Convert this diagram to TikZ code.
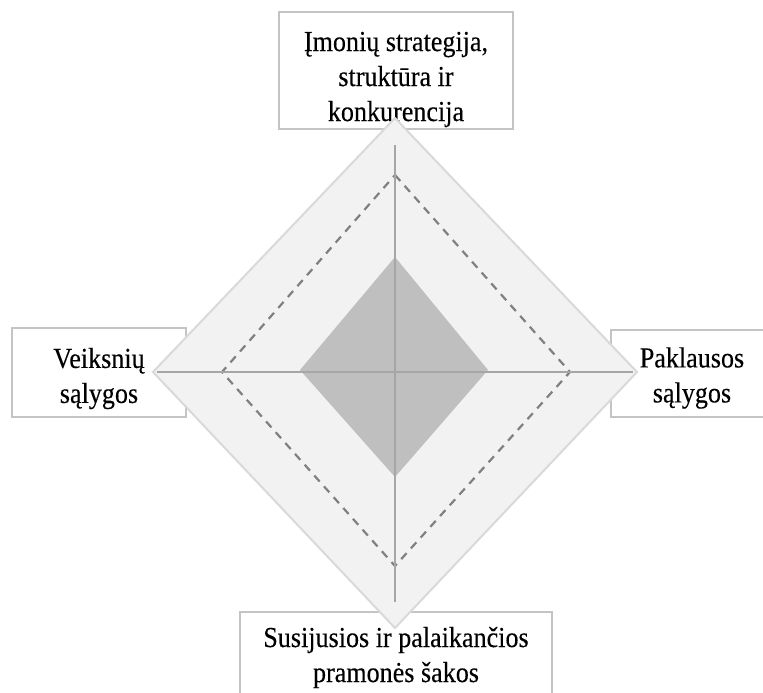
\documentclass[tikz,border=0pt]{standalone}
\usepackage{fontspec}
\setmainfont[FakeStretch=0.9,FakeBold=0.25]{Liberation Serif}
\definecolor{outerfill}{HTML}{F2F2F2}
\definecolor{outerline}{HTML}{D9D9D9}
\definecolor{innerfill}{HTML}{BFBFBF}
\definecolor{axisline}{HTML}{A6A6A6}
\definecolor{dashline}{HTML}{808080}
\definecolor{boxline}{HTML}{C4C4C4}
\begin{document}
\begin{tikzpicture}[x=1pt,y=-1pt,
  factorbox/.style={draw=boxline, line width=1.3pt, fill=white, rectangle, inner sep=0pt, outer sep=0pt},
  lbl/.style={align=center, inner sep=0pt, outer sep=0pt, font=\fontsize{29}{35}\selectfont},
  outerdiamond/.style={fill=outerfill, draw=outerline, line width=2pt, line join=miter},
  dashdiamond/.style={draw=dashline, line width=2.2pt, dash pattern=on 8pt off 6.5pt},
  innerdiamond/.style={fill=innerfill},
  axis/.style={draw=axisline, line width=2.4pt}]
\useasboundingbox (0,0) rectangle (763,693);
\clip (0,0) rectangle (763,693);
% boxes
\node[factorbox, minimum width=234pt, minimum height=117pt] (topbox) at (396,70.5) {};
\node[factorbox, minimum width=174pt, minimum height=89pt] (leftbox) at (99,372.5) {};
\node[factorbox, minimum width=169pt, minimum height=87pt] (rightbox) at (695.5,373.5) {};
\node[factorbox, minimum width=312pt, minimum height=108pt] (bottombox) at (396,666) {};
% labels
\node[lbl] (toplbl) at (396,79.5) {Įmonių strategija,\\struktūra ir\\konkurencija};
\node[lbl] (leftlbl) at (99,378.5) {Veiksnių\\sąlygos};
\node[lbl] (rightlbl) at (692,378) {Paklausos\\sąlygos};
\node[lbl] (bottomlbl) at (396,657.5) {Susijusios ir palaikančios\\pramonės šakos};
% diamond coordinates
\coordinate (oT) at (395,118);
\coordinate (oR) at (637,372);
\coordinate (oB) at (395,628);
\coordinate (oL) at (153,372);
\coordinate (dT) at (395,175);
\coordinate (dR) at (570,372);
\coordinate (dB) at (395,566);
\coordinate (dL) at (222,372);
\coordinate (iT) at (395,257);
\coordinate (iR) at (488,370);
\coordinate (iB) at (395,477);
\coordinate (iL) at (300,370);
\coordinate (aT) at (395,145);
\coordinate (aB) at (395,602);
\coordinate (aL) at (157,372);
\coordinate (aR) at (633,372);
% shapes
\path[outerdiamond] (oT) -- (oR) -- (oB) -- (oL) -- cycle;
\path[dashdiamond] (dT) -- (dR) -- (dB) -- (dL) -- cycle;
\path[innerdiamond] (iT) -- (iR) -- (iB) -- (iL) -- cycle;
\draw[axis] (aT) -- (aB);
\draw[axis] (aL) -- (aR);
\end{tikzpicture}
\end{document}
